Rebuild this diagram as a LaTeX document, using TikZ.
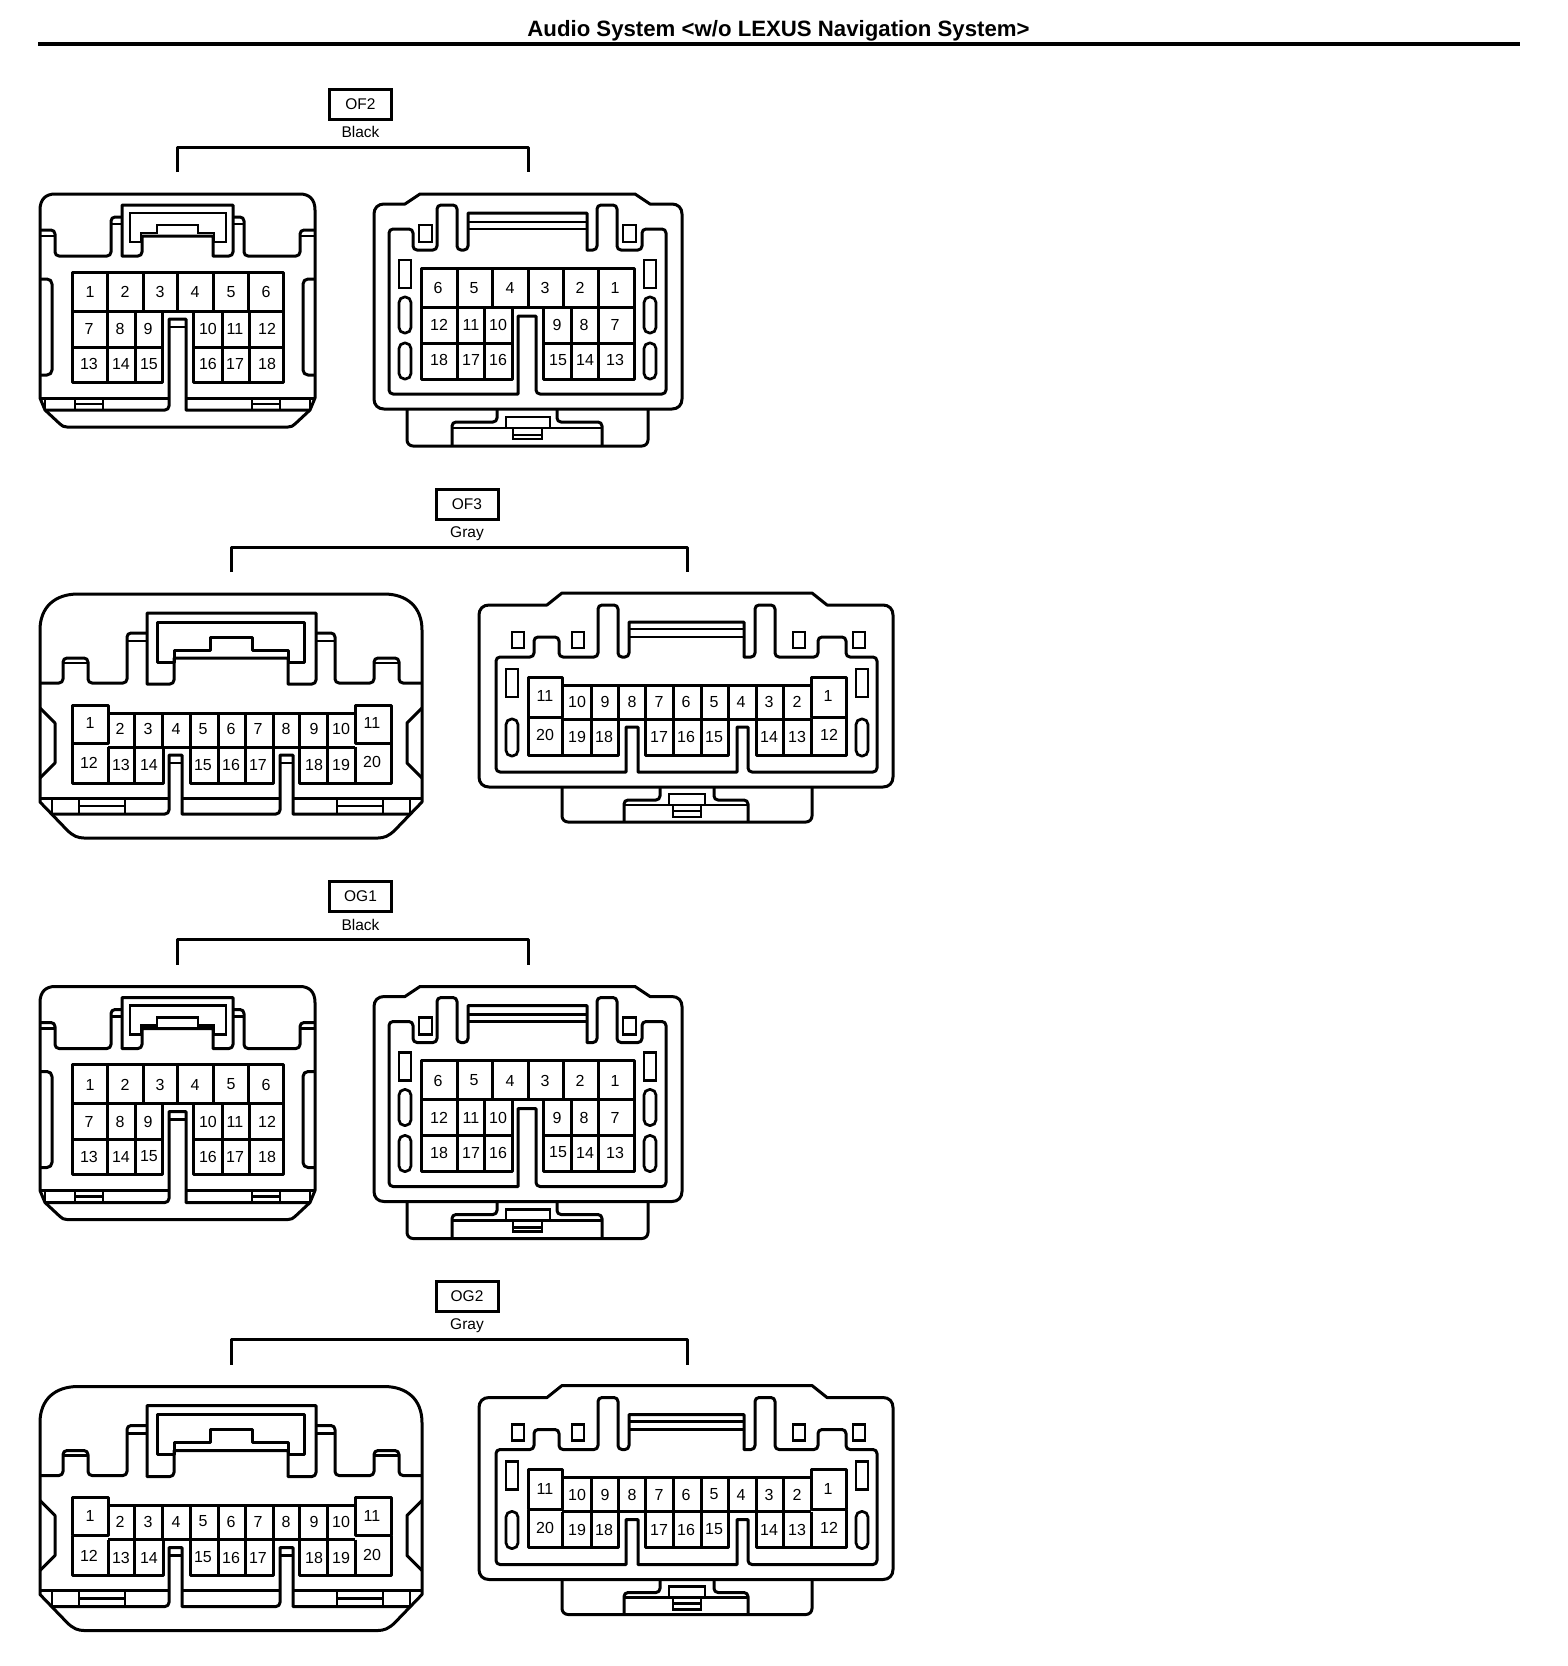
\documentclass[tikz,border=0pt]{standalone}
\usepackage{fontspec}
\setmainfont{Liberation Sans}
\tikzset{
    wire/.style={line width=3pt, line join=round},
    thin wire/.style={line width=2.7pt},
    pin/.style={font=\fontsize{16}{16}\selectfont, inner sep=0pt},
    tagbox/.style={draw, line width=3pt, minimum width=62pt, minimum height=30pt, inner sep=0pt, font=\fontsize{15.5}{16}\selectfont},
    colourname/.style={font=\fontsize{15.5}{16}\selectfont, inner sep=0pt}
}
% Slot with round ends, x left/right, y top/bottom
\newcommand{\slotoval}[4]{\draw[thin wire, rounded corners=5.5pt] (#1,#3) rectangle (#2,#4);}

% 18 pin, mating face
\newcommand{\blackleft}{%
    % Shell
    \draw[wire] (40,210) .. controls (40,199) and (46,194) .. (55,194) -- (300,194)
        .. controls (309,194) and (315,199) .. (315,210) -- (315,398) -- (310,410) -- (295,424)
        .. controls (293,426) and (291,427) .. (288,427) -- (67,427)
        .. controls (64,427) and (62,426) .. (60,424) -- (45,410) -- (40,398) -- cycle;
    \draw[wire] (40,398) -- (168,398);
    \draw[wire] (186,398) -- (315,398);
    % Left and right halves of the top and the sides
    \foreach \side/\mid in {1/0, -1/355}{
        \begin{scope}[shift={(\mid,0)}, xscale=\side]
            \draw[wire, rounded corners=4pt] (40,230) -- (55,230) -- (55,256) -- (111,256) -- (111,217) -- (122,217);
            \draw[thin wire] (40,236) -- (55,236);
            \draw[thin wire] (111,224) -- (122,224);
            \draw[wire, rounded corners=5pt] (40,279) -- (52,279) -- (52,375) -- (40,375);
            \draw[thin wire] (45,398) -- (45,410);
            \draw[thin wire] (75,398) rectangle (103,410);
            \draw[thin wire] (75,404) -- (103,404);
        \end{scope}
    }
    % Clip
    \draw[wire, rounded corners=4pt] (122,205) [sharp corners] -- (122,256) [rounded corners=4pt] -- (142,256) [sharp corners] -- (142,236) -- (213,236) -- (213,256) [rounded corners=4pt] -- (233,256) [sharp corners] -- (233,205) -- cycle;
    \draw[thin wire] (130,213) -- (130,242) -- (141,242) -- (141,233) -- (157,233) -- (157,225) -- (198,225) -- (198,233) -- (214,233) -- (214,242) -- (226,242) -- (226,213) -- cycle;
    % Pin block
    \draw[wire, rounded corners=4pt] (45,410) -- (169,410) [sharp corners] -- (169,319) -- (186,319) -- (186,410) [rounded corners=4pt] -- (310,410);
    \draw[thin wire] (169,327) -- (186,327);
    \draw[wire] (162,311) -- (162,382) -- (72,382) -- (72,272) -- (283,272) -- (283,382) -- (193,382) -- (193,311);
    \draw[wire] (72,311) -- (283,311);
    \draw[wire] (72,347) -- (162,347);
    \draw[wire] (193,347) -- (283,347);
    \foreach \x in {107,143,177,213,248}{ \draw[wire] (\x,272) -- (\x,311); }
    \foreach \x in {107,135,222,249}{ \draw[wire] (\x,311) -- (\x,382); }
    % Numbers
    \foreach \n/\x/\y in {1/90/292, 2/125/292, 3/160/292, 4/195/292, 5/231/292, 6/266/292,
        7/89/329, 8/120/329, 9/148/329, 10/208/329, 11/235/329, 12/267/329,
        13/89/364, 14/121/364, 15/149/364, 16/208/364, 17/235/364, 18/267/364}{
        \node[pin] (a\n) at (\x,\y) {\n};
    }
}

% 18 pin, wire side
\newcommand{\blackright}{%
    \draw[wire] (420,194) -- (635,194) -- (650,204) -- (672,204)
        .. controls (678,204) and (682,208) .. (682,214) -- (682,399)
        .. controls (682,405) and (678,409) .. (672,409) -- (384,409)
        .. controls (378,409) and (374,405) .. (374,399) -- (374,214)
        .. controls (374,208) and (378,204) .. (384,204) -- (405,204) -- cycle;
    \draw[wire, rounded corners=6pt] (407,409) -- (407,446) -- (648,446) -- (648,409);
    % Inner wall
    \draw[wire, rounded corners=4pt] (389,229) -- (413,229) -- (413,250) -- (437,250) -- (437,205) -- (457,205) -- (457,250) -- (468,250)
        [sharp corners] -- (468,213) -- (587,213) -- (587,250) [rounded corners=4pt] -- (597,250) -- (597,205) -- (617,205) -- (617,250) -- (642,250) -- (642,229) -- (666,229)
        -- (666,394) -- (536,394) [sharp corners] -- (536,316) -- (518,316) -- (518,394) [rounded corners=4pt] -- (389,394) -- cycle;
    \draw[thin wire] (468,222) -- (587,222);
    \draw[thin wire] (468,229) -- (587,229);
    \foreach \x in {419,623}{ \draw[thin wire] (\x,225) rectangle ++(13,17); }
    % Slots
    \foreach \x in {399,644}{
        \draw[thin wire] (\x,260) rectangle ++(12,28);
        \slotoval{\x}{\x+12}{297}{333}
        \slotoval{\x}{\x+12}{343}{379}
    }
    % Pin block
    \draw[wire] (512,307) -- (512,379) -- (421,379) -- (421,268) -- (634,268) -- (634,379) -- (543,379) -- (543,307);
    \draw[wire] (421,307) -- (634,307);
    \draw[wire] (421,343) -- (512,343);
    \draw[wire] (543,343) -- (634,343);
    \foreach \x in {457,492,528,563,598}{ \draw[wire] (\x,268) -- (\x,307); }
    \foreach \x in {457,484,571,598}{ \draw[wire] (\x,307) -- (\x,379); }
    % Bottom latch
    \draw[wire, rounded corners=4pt] (452,446) -- (452,422) -- (497,422) -- (497,409);
    \draw[wire, rounded corners=4pt] (557,409) -- (557,422) -- (602,422) -- (602,446);
    \draw[thin wire] (452,428) -- (602,428);
    \draw[thin wire] (506,428) -- (506,417) -- (550,417) -- (550,428);
    \draw[thin wire] (513,428) -- (513,439) -- (542,439) -- (542,428);
    \draw[thin wire] (513,435) -- (542,435);
    % Numbers
    \foreach \n/\x/\y in {6/438/288, 5/474/288, 4/510/288, 3/545/288, 2/580/288, 1/615/288,
        12/439/325, 11/471/325, 10/498/325, 9/557/325, 8/584/325, 7/615/325,
        18/439/360, 17/471/360, 16/498/360, 15/558/360, 14/585/360, 13/615/360}{
        \node[pin] (b\n) at (\x,\y) {\n};
    }
}

% 20 pin, mating face
\newcommand{\grayleft}{%
    \draw[wire] (40,630) .. controls (40,607) and (55,594) .. (78,594) -- (384,594)
        .. controls (407,594) and (422,607) .. (422,630) -- (422,802) -- (395,830)
        .. controls (389,836) and (384,838) .. (378,838) -- (84,838)
        .. controls (78,838) and (73,836) .. (67,830) -- (40,802) -- cycle;
    \draw[wire] (40,798) -- (169,798);
    \draw[wire] (182,798) -- (280,798);
    \draw[wire] (293,798) -- (422,798);
    \foreach \side/\mid in {1/0, -1/462}{
        \begin{scope}[shift={(\mid,0)}, xscale=\side]
            \draw[wire, rounded corners=4pt] (40,683) -- (63,683) -- (63,658) -- (88,658) -- (88,683) -- (127,683) -- (127,633) -- (147,633);
            \draw[thin wire] (63,663) -- (88,663);
            \draw[thin wire] (127,641) -- (147,641);
            \draw[wire] (40,708) -- (55,723) -- (55,763) -- (40,778);
            \draw[thin wire] (52,798) -- (52,814);
            \draw[thin wire] (79,798) rectangle (125,814);
            \draw[thin wire] (79,806) -- (125,806);
        \end{scope}
    }
    % Clip
    \draw[wire, rounded corners=4pt] (147,613) [sharp corners] -- (147,684) [rounded corners=4pt] -- (174,684) [sharp corners] -- (174,658) -- (288,658) -- (288,684) [rounded corners=4pt] -- (316,684) [sharp corners] -- (316,613) -- cycle;
    \draw[wire] (157,622) -- (157,662) -- (174,662) -- (174,650) -- (210,650) -- (210,637) -- (252,637) -- (252,650) -- (288,650) -- (288,662) -- (304,662) -- (304,622) -- cycle;
    % Keys
    \draw[wire, rounded corners=4pt] (52,814) -- (169,814) [sharp corners] -- (169,755) -- (182,755) -- (182,814) [rounded corners=4pt] -- (280,814)
        [sharp corners] -- (280,755) -- (293,755) -- (293,814) [rounded corners=4pt] -- (410,814);
    \foreach \x in {169,280}{ \draw[thin wire] (\x,763) -- (\x+13,763); }
    % Pin block
    \draw[wire] (108,713) -- (355,713);
    \draw[wire] (72,705) rectangle (108,743);
    \draw[wire] (355,705) rectangle (391,743);
    \draw[wire] (72,743) -- (72,783) -- (163,783) -- (163,747);
    \draw[wire] (190,747) -- (190,783) -- (273,783) -- (273,747);
    \draw[wire] (299,747) -- (299,783) -- (391,783) -- (391,743);
    \draw[wire] (108,747) -- (355,747);
    \foreach \x in {134,162,190,218,245,273,299,327}{ \draw[wire] (\x,713) -- (\x,747); }
    \foreach \x in {108,134,218,245,327,355}{ \draw[wire] (\x,747) -- (\x,783); }
    % Numbers
    \foreach \n/\x/\y in {1/90/723, 2/120/729, 3/148/729, 4/176/729, 5/203/729, 6/231/729, 7/258/729, 8/286/729, 9/314/729, 10/341/729, 11/372/723,
        12/89/763, 13/121/765, 14/149/765, 15/203/765, 16/231/765, 17/258/765, 18/314/765, 19/341/765, 20/372/762}{
        \node[pin] (c\n) at (\x,\y) {\n};
    }
}

% 20 pin, wire side
\newcommand{\grayright}{%
    \draw[wire] (562,593) -- (812,593) -- (827,605) -- (883,605)
        .. controls (889,605) and (893,609) .. (893,615) -- (893,777)
        .. controls (893,783) and (889,787) .. (883,787) -- (489,787)
        .. controls (483,787) and (479,783) .. (479,777) -- (479,615)
        .. controls (479,609) and (483,605) .. (489,605) -- (547,605) -- cycle;
    \draw[wire, rounded corners=6pt] (562,787) -- (562,822) -- (812,822) -- (812,787);
    % Inner wall
    \draw[wire, rounded corners=4pt] (496,657) -- (534,657) -- (534,637) -- (559,637) -- (559,657) -- (598,657) -- (598,605) -- (618,605) -- (618,657) -- (629,657)
        [sharp corners] -- (629,622) -- (744,622) -- (744,657) [rounded corners=4pt] -- (755,657) -- (755,605) -- (775,605) -- (775,657) -- (818,657) -- (818,637) -- (846,637) -- (846,657) -- (877,657)
        -- (877,772) -- (748,772) [sharp corners] -- (748,727) -- (737,727) -- (737,772) -- (638,772) -- (638,727) -- (626,727) -- (626,772) [rounded corners=4pt] -- (496,772) -- cycle;
    \draw[thin wire] (629,629) -- (744,629);
    \draw[thin wire] (629,637) -- (744,637);
    \foreach \x in {512,572,793,853}{ \draw[thin wire] (\x,632) rectangle ++(12,16); }
    \foreach \x in {506,856}{
        \draw[thin wire] (\x,669) rectangle ++(12,28);
        \slotoval{\x}{\x+12}{719}{756}
    }
    % Pin block
    \draw[wire] (562,685) -- (811,685);
    \draw[wire] (528,677) rectangle (562,717);
    \draw[wire] (811,677) rectangle (846,717);
    \draw[wire] (528,717) -- (528,755) -- (618,755) -- (618,719);
    \draw[wire] (645,719) -- (645,755) -- (728,755) -- (728,719);
    \draw[wire] (756,719) -- (756,755) -- (846,755) -- (846,717);
    \draw[wire] (562,719) -- (811,719);
    \foreach \x in {591,618,645,673,701,728,756,783}{ \draw[wire] (\x,685) -- (\x,719); }
    \foreach \x in {562,591,673,701,783,811}{ \draw[wire] (\x,719) -- (\x,755); }
    % Bottom latch
    \draw[wire, rounded corners=4pt] (624,822) -- (624,800) -- (660,800) -- (660,787);
    \draw[wire, rounded corners=4pt] (714,787) -- (714,800) -- (748,800) -- (748,822);
    \draw[thin wire] (624,805) -- (748,805);
    \draw[thin wire] (669,805) -- (669,794) -- (705,794) -- (705,805);
    \draw[thin wire] (673,805) -- (673,817) -- (701,817) -- (701,805);
    \draw[thin wire] (673,811) -- (701,811);
    % Numbers
    \foreach \n/\x/\y in {11/545/696, 10/577/702, 9/605/702, 8/632/702, 7/659/702, 6/686/702, 5/714/702, 4/741/702, 3/769/702, 2/797/702, 1/828/696,
        20/545/735, 19/577/737, 18/604/737, 17/659/737, 16/686/737, 15/714/737, 14/769/737, 13/797/737, 12/829/735}{
        \node[pin] (d\n) at (\x,\y) {\n};
    }
}

\begin{document}
\begin{tikzpicture}[x=1pt, y=-1pt]
    \useasboundingbox (0,0) rectangle (1568,1666);

    % Title
    \node[inner sep=0pt, font=\bfseries\fontsize{22.2}{22}\selectfont] (title) at (778.5,31) {Audio System <w/o LEXUS Navigation System>};
    \draw[line width=3.6pt] (38,44) -- (1520,44);

    % Black connectors
    \foreach \dy/\code in {0/OF2, 792.5/OG1}{
        \begin{scope}[shift={(0,\dy)}]
            \node[tagbox] (tag\code) at (360.5,104) {\code};
            \node[colourname] (colour\code) at (360.5,132) {Black};
            \coordinate (left\code) at (177,172);
            \coordinate (right\code) at (528,172);
            \draw[wire] (left\code) |- (360,147) -| (right\code);
            \blackleft
            \blackright
        \end{scope}
    }

    % Gray connectors
    \foreach \dy/\code in {0/OF3, 792.5/OG2}{
        \begin{scope}[shift={(0,\dy)}]
            \node[tagbox] (tag\code) at (467,504) {\code};
            \node[colourname] (colour\code) at (467,533.5) {Gray};
            \coordinate (left\code) at (231,572);
            \coordinate (right\code) at (687,572);
            \draw[wire] (left\code) |- (467,547) -| (right\code);
            \grayleft
            \grayright
        \end{scope}
    }
\end{tikzpicture}
\end{document}
